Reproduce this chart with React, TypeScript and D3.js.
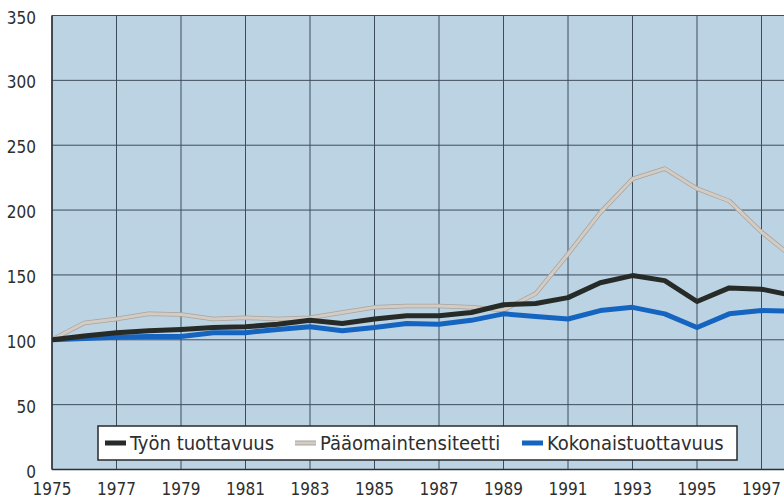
import React from "react";
import * as d3 from "d3";

const years = [1975,1976,1977,1978,1979,1980,1981,1982,1983,1984,1985,1986,1987,1988,1989,1990,1991,1992,1993,1994,1995,1996,1997,1998];
const tyonTuottavuus = [100,103,105.5,107,108,109.5,110,112,115,112.5,116,118.6,118.6,121,127,128,132.5,144,149.5,145.6,129.5,140,139,134];
const paaomaintensiteetti = [100,113,116,120,119.5,116,117,116,117,121,125,126,126,125,123,135.6,166,198,224,232,216.5,207,183,163];
const kokonaistuottavuus = [100,101,102,102.5,102.5,105.5,105.5,108,110,107,109.5,112.5,112,115,120,118,116,122.5,125,120,109.5,120,122.5,122];
const yTicks = [0,50,100,150,200,250,300,350];
const xTicks = [1975,1977,1979,1981,1983,1985,1987,1989,1991,1993,1995,1997];
const seriesNames = ["Työn tuottavuus","Pääomaintensiteetti","Kokonaistuottavuus"];

const W = 784, H = 500;
const left = 52, top = 15.5, bottom = 469.5;
const x = d3.scaleLinear().domain([1975, 1997]).range([left, 761.5]);
const y = d3.scaleLinear().domain([0, 350]).range([bottom, top]);
const font = "'DejaVu Sans Condensed', sans-serif";

export default function App() {
  const line = (vals: number[]) =>
    d3.line<number>().x((_, i) => x(years[i])).y((v) => y(v)).curve(d3.curveLinear)(vals) || "";
  const series = [
    { name: seriesNames[1], vals: paaomaintensiteetti, color: "#d2ccc4", edge: "#aaa39b", w: 3 },
    { name: seriesNames[2], vals: kokonaistuottavuus, color: "#1565c0", edge: "", w: 5 },
    { name: seriesNames[0], vals: tyonTuottavuus, color: "#262b28", edge: "", w: 5 },
  ];
  const legend = [
    { name: seriesNames[0], color: "#262b28", edge: "", sx: 105, tx: 130 },
    { name: seriesNames[1], color: "#d2ccc4", edge: "#aaa39b", sx: 295, tx: 320 },
    { name: seriesNames[2], color: "#1565c0", edge: "", sx: 522, tx: 547 },
  ];
  return (
    <svg width={W} height={H} style={{ position: "absolute", left: 0, top: 0, background: "#fff" }}>
      <defs>
        <clipPath id="plot">
          <rect x={left} y={top} width={W - left} height={bottom - top} />
        </clipPath>
      </defs>
      <rect x={left} y={top} width={W - left} height={bottom - top} fill="#bcd3e4" />
      <g stroke="#3d4d5c" strokeWidth={1}>
        {yTicks.map((t) => (
          <line key={"h" + t} x1={left} x2={W} y1={y(t)} y2={y(t)} />
        ))}
        {xTicks.map((t) => (
          <line key={"v" + t} x1={x(t)} x2={x(t)} y1={top} y2={bottom} />
        ))}
      </g>
      <line x1={left} x2={left} y1={top} y2={bottom} stroke="#2a3038" strokeWidth={1.5} />
      <line x1={left} x2={W} y1={bottom} y2={bottom} stroke="#2a3038" strokeWidth={1.5} />
      <g clipPath="url(#plot)" fill="none" strokeLinejoin="round">
        {series.map((s) => (
          <g key={s.name}>
            {s.edge && <path d={line(s.vals)} stroke={s.edge} strokeWidth={s.w + 1.5} />}
            <path d={line(s.vals)} stroke={s.color} strokeWidth={s.w} />
          </g>
        ))}
      </g>
      <g fontFamily={font} fontSize={17} fill="#2e2e2e">
        {yTicks.map((t) => (
          <text key={"yl" + t} x={36} y={y(t) + 8} textAnchor="end">{t}</text>
        ))}
        {xTicks.map((t) => (
          <text key={"xl" + t} x={x(t)} y={495} textAnchor="middle">{t}</text>
        ))}
      </g>
      <rect x={98} y={426} width={639} height={34} fill="#fff" stroke="#2a2a2a" strokeWidth={1.5} />
      <g fontFamily={font} fontSize={20} fill="#2e2e2e">
        {legend.map((l) => (
          <g key={l.name}>
            {l.edge && <line x1={l.sx} x2={l.sx + 21} y1={443} y2={443} stroke={l.edge} strokeWidth={5} />}
            <line x1={l.sx} x2={l.sx + 21} y1={443} y2={443} stroke={l.color} strokeWidth={l.edge ? 3 : 5} />
            <text x={l.tx} y={450}>{l.name}</text>
          </g>
        ))}
      </g>
    </svg>
  );
}
